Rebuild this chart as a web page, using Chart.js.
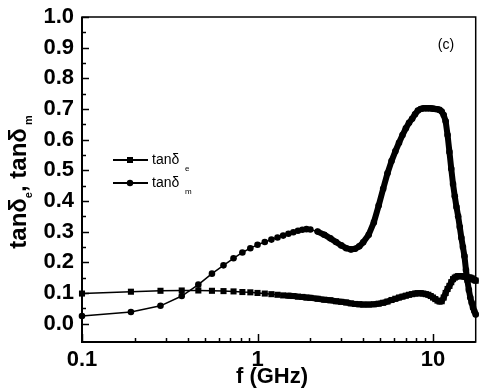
<!DOCTYPE html>
<html lang="en">
<head>
  <meta charset="UTF-8">
  <title>tan delta vs f</title>
  <script src="https://cdn.jsdelivr.net/npm/chart.js"></script>
  <style>
    html, body { margin: 0; padding: 0; background: #fff; }
    #wrap { width: 480px; height: 392px; }
  </style>
</head>
<body>
<div id="wrap"><canvas id="lossChart" width="480" height="392"></canvas></div>
<script>
// frequency points (GHz)
const freqGHz = [0.1, 0.19, 0.28, 0.37, 0.46, 0.55, 0.64, 0.73, 0.82, 0.91,
  1.0, 1.1, 1.2, 1.3, 1.4, 1.5, 1.6, 1.7, 1.8, 1.9,
  2.0, 2.2, 2.4, 2.6, 2.8, 3.0, 3.2, 3.4, 3.6, 3.8,
  4.0, 4.3, 4.6, 4.9, 5.2, 5.5, 5.8, 6.1, 6.4, 6.7,
  7.0, 7.3, 7.6, 7.9, 8.2, 8.5, 8.8, 9.1, 9.4, 9.7,
  10.0, 10.3, 10.6, 10.9, 11.2, 11.5, 11.8, 12.1, 12.4, 12.7,
  13.0, 13.3, 13.6, 13.9, 14.2, 14.5, 14.8, 15.1, 15.4, 15.7,
  16.0, 16.3, 16.6, 16.9, 17.2, 17.5]

// dielectric loss tangent (squares)
const tanDeltaE = [0.098, 0.104, 0.107, 0.108, 0.108, 0.107, 0.106, 0.105, 0.103, 0.102,
  0.100, 0.098, 0.096, 0.094, 0.092, 0.091, 0.090, 0.088, 0.087, 0.085,
  0.084, 0.081, 0.078, 0.076, 0.073, 0.071, 0.069, 0.066, 0.064, 0.063,
  0.062, 0.062, 0.063, 0.065, 0.068, 0.072, 0.077, 0.081, 0.085, 0.088,
  0.091, 0.094, 0.096, 0.098, 0.099, 0.099, 0.098, 0.096, 0.094, 0.090,
  0.085, 0.080, 0.075, 0.072, 0.073, 0.085, 0.100, 0.113, 0.123, 0.135,
  0.145, 0.150, 0.153, 0.155, 0.155, 0.155, 0.154, 0.153, 0.152, 0.150,
  0.150, 0.150, 0.148, 0.145, 0.142, 0.140]

// magnetic loss tangent (circles)
const tanDeltaM = [0.025, 0.038, 0.058, 0.090, 0.127, 0.163, 0.190, 0.213, 0.232, 0.246,
  0.257, 0.266, 0.274, 0.281, 0.287, 0.293, 0.298, 0.303, 0.306, 0.308,
  0.307, 0.300, 0.290, 0.278, 0.266, 0.255, 0.246, 0.242, 0.244, 0.252,
  0.265, 0.290, 0.330, 0.385, 0.440, 0.490, 0.530, 0.562, 0.590, 0.615,
  0.637, 0.655, 0.668, 0.683, 0.695, 0.700, 0.702, 0.702, 0.702, 0.702,
  0.701, 0.700, 0.699, 0.697, 0.692, 0.680, 0.660, 0.615, 0.560, 0.505,
  0.455, 0.415, 0.380, 0.350, 0.315, 0.280, 0.250, 0.220, 0.175, 0.140,
  0.110, 0.085, 0.068, 0.052, 0.040, 0.030]

const xTickValues = [0.1, 1, 10]
const yTickValues = [0, 0.1, 0.2, 0.3, 0.4, 0.5, 0.6, 0.7, 0.8, 0.9, 1.0]

const FONT = "'Liberation Sans', Arial, sans-serif"

function toPoints(ys) {
  return freqGHz.map((f, i) => ({ x: f, y: ys[i] }))
}

// frame, inward ticks, legend and titles drawn on top
const decorations = {
  id: 'decorations',
  afterDraw(chart) {
    const ctx = chart.ctx
    const a = chart.chartArea
    const xs = chart.scales.x
    const ys = chart.scales.y
    ctx.save()
    ctx.strokeStyle = '#000'
    ctx.fillStyle = '#000'

    // frame
    ctx.lineWidth = 1.5
    ctx.strokeRect(a.left, a.top, a.right - a.left, a.bottom - a.top)
    ctx.lineWidth = 2
    ctx.beginPath()
    ctx.moveTo(a.left, a.top)
    ctx.lineTo(a.left, a.bottom)
    ctx.lineTo(a.right, a.bottom)
    ctx.stroke()

    // y ticks (major 0.1, minor 0.05)
    ctx.lineWidth = 1.5
    for (let i = 0; i <= 20; i++) {
      const py = Math.round(ys.getPixelForValue(i / 20)) + 0.5
      const len = i % 2 === 0 ? 7 : 4
      ctx.beginPath()
      ctx.moveTo(a.left, py)
      ctx.lineTo(a.left + len, py)
      ctx.stroke()
    }
    // x ticks on log scale
    for (const d of [0.1, 1, 10]) {
      for (let k = 1; k <= 9; k++) {
        const v = k * d
        if (v > xs.max) break
        const px = Math.round(xs.getPixelForValue(v)) + 0.5
        const len = k === 1 ? 8 : 4
        ctx.beginPath()
        ctx.moveTo(px, a.bottom)
        ctx.lineTo(px, a.bottom - len)
        ctx.stroke()
      }
    }

    // legend
    const rows = [
      { y: 160, style: 'rect', sub: 'e' },
      { y: 183, style: 'circle', sub: 'm' }
    ]
    rows.forEach(r => {
      ctx.lineWidth = 1.8
      ctx.beginPath()
      ctx.moveTo(113, r.y)
      ctx.lineTo(148, r.y)
      ctx.stroke()
      ctx.beginPath()
      if (r.style === 'rect') ctx.rect(127, r.y - 3, 6, 6)
      else ctx.arc(130, r.y, 3.2, 0, Math.PI * 2)
      ctx.fill()
      ctx.textBaseline = 'middle'
      ctx.textAlign = 'left'
      ctx.font = '14px ' + FONT
      ctx.fillText('tan\u03b4', 152, r.y)
      ctx.font = '8px ' + FONT
      ctx.fillText(r.sub, 185, r.y + 9)
    })

    // panel label
    ctx.font = '14px ' + FONT
    ctx.textAlign = 'center'
    ctx.fillText('(c)', 446, 45)

    // x title
    ctx.font = 'bold 22px ' + FONT
    ctx.fillText('f (GHz)', 272, 377)

    // y title, rotated, with subscripts
    ctx.translate(26, 182)
    ctx.rotate(-Math.PI / 2)
    ctx.textBaseline = 'alphabetic'
    ctx.textAlign = 'left'
    const parts = [
      { t: 'tan\u03b4', f: 'bold 24px ', dy: 0 },
      { t: 'e', f: 'bold 11px ', dy: 6 },
      { t: ', tan\u03b4', f: 'bold 24px ', dy: 0 },
      { t: ' m', f: 'bold 11px ', dy: 6 }
    ]
    let total = 0
    parts.forEach(p => { ctx.font = p.f + FONT; total += ctx.measureText(p.t).width })
    let cx = -total / 2
    parts.forEach(p => {
      ctx.font = p.f + FONT
      ctx.fillText(p.t, cx, p.dy)
      cx += ctx.measureText(p.t).width
    })
    ctx.restore()
  }
}

const thickAbove = (limit) => (c) => c.p0.parsed.x >= limit ? 6 : 1.5

new Chart(document.getElementById('lossChart'), {
  type: 'line',
  data: {
    datasets: [
      {
        label: 'tan\u03b4e',
        data: toPoints(tanDeltaE),
        borderColor: '#000',
        backgroundColor: '#000',
        borderWidth: 1.5,
        pointStyle: 'rect',
        pointRadius: 4.3,
        pointBorderWidth: 0,
        borderJoinStyle: 'round',
        borderCapStyle: 'round',
        tension: 0,
        clip: false,
        segment: { borderWidth: thickAbove(1.5) }
      },
      {
        label: 'tan\u03b4m',
        data: toPoints(tanDeltaM),
        borderColor: '#000',
        backgroundColor: '#000',
        borderWidth: 1.5,
        pointStyle: 'circle',
        pointRadius: 3.3,
        pointBorderWidth: 0,
        borderJoinStyle: 'round',
        borderCapStyle: 'round',
        tension: 0,
        clip: false,
        segment: { borderWidth: thickAbove(2.2) }
      }
    ]
  },
  options: {
    responsive: false,
    animation: false,
    layout: { padding: { top: 17, right: 3, left: 0, bottom: 0 } },
    plugins: {
      legend: { display: false },
      tooltip: { enabled: false }
    },
    scales: {
      x: {
        type: 'logarithmic',
        min: 0.1,
        max: 17.5,
        grid: { display: false },
        border: { display: false },
        afterBuildTicks: s => { s.ticks = xTickValues.map(v => ({ value: v })) },
        afterFit: s => { s.height = 50 },
        ticks: {
          color: '#000',
          font: { family: FONT, size: 22, weight: 'bold' },
          padding: -3,
          maxRotation: 0,
          autoSkip: false,
          callback: v => v < 1 ? v.toFixed(1) : String(Math.round(v))
        }
      },
      y: {
        min: -0.06,
        max: 1.0,
        grid: { display: false },
        border: { display: false },
        afterBuildTicks: s => { s.ticks = yTickValues.map(v => ({ value: v })) },
        afterFit: s => { s.width = 82 },
        ticks: {
          color: '#000',
          font: { family: FONT, size: 22, weight: 'bold' },
          padding: 0,
          callback: v => v.toFixed(1)
        }
      }
    }
  },
  plugins: [decorations]
})
</script>
</body>
</html>
